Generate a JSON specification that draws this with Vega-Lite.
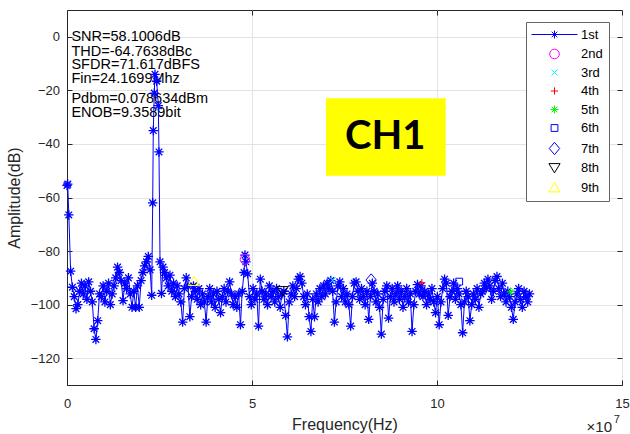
{
"$schema": "https://vega.github.io/schema/vega-lite/v6.json",
"width": 555, "height": 375,
"autosize": {"type": "none"},
"padding": {"left": 67, "top": 10, "right": 8, "bottom": 49},
"background": "#ffffff",
"config": {"font": "Liberation Sans", "view": {"stroke": "#262626", "strokeWidth": 1}},
"datasets": {
"spec": [
{"f":0,"db":-55.5},{"f":0.02,"db":-55},{"f":0.049,"db":-66.5},{"f":0.098,"db":-87.5},{"f":0.146,"db":-93.5},{"f":0.195,"db":-97},{"f":0.244,"db":-101.5},{"f":0.293,"db":-100},{"f":0.342,"db":-95},{"f":0.391,"db":-92},{"f":0.439,"db":-96},{"f":0.488,"db":-93},{"f":0.537,"db":-98},{"f":0.586,"db":-91.5},{"f":0.635,"db":-95},{"f":0.684,"db":-99},{"f":0.732,"db":-109},{"f":0.781,"db":-113},{"f":0.83,"db":-106},{"f":0.879,"db":-96},{"f":0.928,"db":-97},{"f":0.977,"db":-93},{"f":1.025,"db":-99},{"f":1.074,"db":-95},{"f":1.123,"db":-92},{"f":1.172,"db":-100},{"f":1.221,"db":-96},{"f":1.27,"db":-93},{"f":1.318,"db":-90},{"f":1.367,"db":-86},{"f":1.416,"db":-88},{"f":1.465,"db":-91},{"f":1.514,"db":-98.5},{"f":1.563,"db":-92},{"f":1.611,"db":-94},{"f":1.66,"db":-90},{"f":1.709,"db":-96},{"f":1.758,"db":-101},{"f":1.807,"db":-95},{"f":1.855,"db":-101},{"f":1.904,"db":-93},{"f":1.953,"db":-101},{"f":2.002,"db":-91},{"f":2.051,"db":-88},{"f":2.1,"db":-85.5},{"f":2.148,"db":-84},{"f":2.197,"db":-82},{"f":2.246,"db":-87},
{"f":2.289,"db":-96.5},{"f":2.316,"db":-62},{"f":2.332,"db":-35},{"f":2.359,"db":-21},{"f":2.378,"db":-14},{"f":2.424,"db":-16.6},{"f":2.468,"db":-25.7},{"f":2.486,"db":-43},{"f":2.514,"db":-84},{"f":2.554,"db":-95.8},{"f":2.595,"db":-86},
{"f":2.637,"db":-88},{"f":2.686,"db":-90},{"f":2.734,"db":-93},{"f":2.783,"db":-89},{"f":2.832,"db":-95},{"f":2.881,"db":-92},{"f":2.93,"db":-97},{"f":2.979,"db":-93},{"f":3.027,"db":-96},{"f":3.076,"db":-99},{"f":3.125,"db":-106.5},{"f":3.174,"db":-94},{"f":3.223,"db":-90},{"f":3.271,"db":-93},{"f":3.32,"db":-104.5},{"f":3.369,"db":-97},{"f":3.418,"db":-93},{"f":3.467,"db":-95},{"f":3.516,"db":-98},{"f":3.564,"db":-94},{"f":3.613,"db":-100},{"f":3.662,"db":-96},{"f":3.711,"db":-99},{"f":3.76,"db":-106.5},{"f":3.809,"db":-97},{"f":3.857,"db":-94},{"f":3.906,"db":-99},{"f":3.955,"db":-96},{"f":4.004,"db":-101},{"f":4.053,"db":-95},{"f":4.102,"db":-98},{"f":4.15,"db":-103},{"f":4.199,"db":-97},{"f":4.248,"db":-94},{"f":4.297,"db":-99},{"f":4.346,"db":-95},{"f":4.395,"db":-91.5},{"f":4.443,"db":-96},{"f":4.492,"db":-100},{"f":4.541,"db":-97},{"f":4.59,"db":-101},{"f":4.639,"db":-96},{"f":4.688,"db":-107.5},{"f":4.736,"db":-95},{"f":4.785,"db":-88},{"f":4.81,"db":-81.5},{"f":4.834,"db":-84},{"f":4.883,"db":-88.5},{"f":4.932,"db":-97},{"f":4.98,"db":-100},{"f":5.029,"db":-94},{"f":5.078,"db":-98},{"f":5.127,"db":-96},{"f":5.176,"db":-108},{"f":5.225,"db":-90.5},{"f":5.273,"db":-95},{"f":5.322,"db":-98},{"f":5.371,"db":-96},{"f":5.42,"db":-100},{"f":5.469,"db":-93},{"f":5.518,"db":-97},{"f":5.566,"db":-95},{"f":5.615,"db":-99},{"f":5.664,"db":-94},{"f":5.713,"db":-97},{"f":5.762,"db":-101},{"f":5.811,"db":-96},{"f":5.859,"db":-95},{"f":5.908,"db":-104},{"f":5.957,"db":-112},{"f":6.006,"db":-99},{"f":6.055,"db":-96},{"f":6.104,"db":-93},{"f":6.152,"db":-97},{"f":6.201,"db":-94},{"f":6.25,"db":-90.5},{"f":6.299,"db":-89.5},{"f":6.348,"db":-92},{"f":6.396,"db":-97},{"f":6.445,"db":-100},{"f":6.494,"db":-96},{"f":6.543,"db":-104.5},{"f":6.592,"db":-110},{"f":6.641,"db":-98},{"f":6.689,"db":-104.5},{"f":6.738,"db":-96},{"f":6.787,"db":-99},{"f":6.836,"db":-94},{"f":6.885,"db":-97},{"f":6.934,"db":-93},{"f":6.982,"db":-96},{"f":7.031,"db":-92},{"f":7.08,"db":-94},{"f":7.129,"db":-91},{"f":7.178,"db":-95},{"f":7.227,"db":-106.5},{"f":7.275,"db":-99},{"f":7.324,"db":-93},{"f":7.373,"db":-91.5},{"f":7.422,"db":-97},{"f":7.471,"db":-94},{"f":7.52,"db":-99},{"f":7.568,"db":-96},{"f":7.617,"db":-100},{"f":7.666,"db":-108},{"f":7.715,"db":-97},{"f":7.764,"db":-92},{"f":7.813,"db":-91.5},{"f":7.861,"db":-95},{"f":7.91,"db":-98},{"f":7.959,"db":-94},{"f":8.008,"db":-97},{"f":8.057,"db":-100},{"f":8.105,"db":-95},{"f":8.154,"db":-105.5},{"f":8.203,"db":-97},{"f":8.252,"db":-92},{"f":8.301,"db":-95},{"f":8.35,"db":-99},{"f":8.398,"db":-96},{"f":8.447,"db":-101},{"f":8.496,"db":-111},{"f":8.545,"db":-98},{"f":8.594,"db":-95},{"f":8.643,"db":-93},{"f":8.691,"db":-105},{"f":8.74,"db":-97},{"f":8.789,"db":-94},{"f":8.838,"db":-99},{"f":8.887,"db":-96},{"f":8.936,"db":-93},{"f":8.984,"db":-98},{"f":9.033,"db":-95},{"f":9.082,"db":-101},{"f":9.131,"db":-97},{"f":9.18,"db":-94},{"f":9.229,"db":-99},{"f":9.277,"db":-96},{"f":9.326,"db":-110},{"f":9.375,"db":-100},{"f":9.424,"db":-95},{"f":9.473,"db":-92.5},{"f":9.521,"db":-96},{"f":9.57,"db":-93},{"f":9.619,"db":-97},{"f":9.668,"db":-95},{"f":9.717,"db":-100},{"f":9.766,"db":-96},{"f":9.814,"db":-98},{"f":9.863,"db":-94},{"f":9.912,"db":-99},{"f":9.961,"db":-103},{"f":10.01,"db":-97},{"f":10.059,"db":-107.5},{"f":10.107,"db":-99},{"f":10.156,"db":-94},{"f":10.205,"db":-90.5},{"f":10.254,"db":-92},{"f":10.303,"db":-104},{"f":10.352,"db":-97},{"f":10.4,"db":-95},{"f":10.449,"db":-92},{"f":10.498,"db":-98},{"f":10.547,"db":-94},{"f":10.596,"db":-96},{"f":10.645,"db":-100},{"f":10.693,"db":-110.5},{"f":10.742,"db":-99},{"f":10.791,"db":-95},{"f":10.84,"db":-97},{"f":10.889,"db":-106},{"f":10.938,"db":-100},{"f":10.986,"db":-96},{"f":11.035,"db":-98},{"f":11.084,"db":-94},{"f":11.133,"db":-101},{"f":11.182,"db":-96},{"f":11.23,"db":-95},{"f":11.279,"db":-92},{"f":11.328,"db":-94},{"f":11.377,"db":-90.5},{"f":11.426,"db":-93},{"f":11.475,"db":-98},{"f":11.523,"db":-95},{"f":11.572,"db":-91},{"f":11.621,"db":-89.5},{"f":11.67,"db":-94},{"f":11.719,"db":-97},{"f":11.768,"db":-92},{"f":11.816,"db":-96},{"f":11.865,"db":-99},{"f":11.914,"db":-95},{"f":11.963,"db":-97},{"f":12.012,"db":-101},{"f":12.061,"db":-105.5},{"f":12.109,"db":-99},{"f":12.158,"db":-96},{"f":12.207,"db":-94},{"f":12.256,"db":-98},{"f":12.305,"db":-101},{"f":12.354,"db":-95},{"f":12.402,"db":-97},{"f":12.451,"db":-99},{"f":12.5,"db":-96}
],
"harm": [
{"h":"2nd","f":4.81,"db":-83.1},{"h":"3rd","f":7.18,"db":-90.9},{"h":"4th","f":9.59,"db":-91.8},{"h":"5th","f":11.99,"db":-95.2},{"h":"6th","f":10.6,"db":-91.4},{"h":"7th","f":8.22,"db":-90.8},{"h":"8th","f":5.83,"db":-94.9},{"h":"9th","f":3.43,"db":-91.2}
],
"notes": [
{"t":"SNR=58.1006dB","f":0.12,"db":0},{"t":"THD=-64.7638dBc","f":0.12,"db":-5.5},{"t":"SFDR=71.617dBFS","f":0.12,"db":-10.35},{"t":"Fin=24.1699Mhz","f":0.12,"db":-15.6},{"t":"Pdbm=0.078634dBm","f":0.12,"db":-23.3},{"t":"ENOB=9.3589bit","f":0.12,"db":-28.6}
],
"box": [{"x1":7.0,"x2":10.235,"y1":-22.96,"y2":-51.86,"label":"CH1","cx":8.6,"cy":-37.4}],
"mult": [{"t":"×10","f":14.73,"db":-147.5}],
"expo": [{"t":"7","f":14.78,"db":-144.2}]
},
"resolve": {"axis": {"x": "independent", "y": "independent"}},
"layer": [
{"data": {"name": "box"}, "mark": {"type": "rect", "color": "#ffff00"},
 "encoding": {
  "x": {"field": "x1", "type": "quantitative", "scale": {"domain": [0, 15], "nice": false, "zero": false},
   "axis": {"orient": "bottom", "values": [0, 5, 10, 15], "format": "d", "title": "Frequency(Hz)", "titleFontSize": 16, "titleFontWeight": "normal", "titleColor": "#262626", "titleX": 277.5, "titleY": 39, "titleBaseline": "middle", "titleAlign": "center", "labelFontSize": 13, "labelColor": "#262626", "labelPadding": 17, "tickSize": -5, "tickColor": "#262626", "domainColor": "#262626", "grid": true, "gridColor": "#e3e3e3", "labelFlush": false}},
  "x2": {"field": "x2"},
  "y": {"field": "y1", "type": "quantitative", "scale": {"domain": [-130, 10], "nice": false, "zero": false},
   "axis": {"orient": "left", "values": [-120, -100, -80, -60, -40, -20, 0], "title": "Amplitude(dB)", "titleFontSize": 16, "titleFontWeight": "normal", "titleColor": "#262626", "titleX": -53, "titleY": 187.5, "titleAngle": -90, "titleBaseline": "middle", "titleAlign": "center", "labelFontSize": 13, "labelColor": "#262626", "labelPadding": 12.5, "tickSize": -5, "tickColor": "#262626", "domainColor": "#262626", "grid": true, "gridColor": "#e3e3e3", "labelFlush": false}},
  "y2": {"field": "y2"}
 }},
{"data": {"name": "box"}, "mark": {"type": "text", "font": "Lato", "fontWeight": "bold", "fontSize": 40, "color": "#000000", "align": "center", "baseline": "middle"},
 "encoding": {"x": {"field": "cx", "type": "quantitative", "axis": null}, "y": {"field": "cy", "type": "quantitative", "axis": null}, "text": {"field": "label"}}},
{"data": {"name": "notes"}, "mark": {"type": "text", "fontSize": 14.5, "color": "#000000", "align": "left", "baseline": "middle"},
 "encoding": {"x": {"field": "f", "type": "quantitative", "axis": null}, "y": {"field": "db", "type": "quantitative", "axis": null}, "text": {"field": "t"}}},
{"data": {"name": "spec"}, "mark": {"type": "line", "color": "#0000ff", "strokeWidth": 1},
 "encoding": {"x": {"field": "f", "type": "quantitative", "axis": null}, "y": {"field": "db", "type": "quantitative", "axis": null}}},
{"data": {"name": "spec"}, "mark": {"type": "point", "filled": false, "color": "#0000ff", "size": 90, "strokeWidth": 1.3, "opacity": 1,
  "shape": "M-1,0L1,0M0,-1L0,1M-0.7,-0.7L0.7,0.7M-0.7,0.7L0.7,-0.7"},
 "encoding": {
  "x": {"field": "f", "type": "quantitative", "axis": {"orient": "top", "values": [0, 5, 10, 15], "labels": false, "title": null, "grid": false, "domain": false, "tickSize": -5, "tickColor": "#262626"}},
  "y": {"field": "db", "type": "quantitative", "axis": {"orient": "right", "values": [-120, -100, -80, -60, -40, -20, 0], "labels": false, "title": null, "grid": false, "domain": false, "tickSize": -5, "tickColor": "#262626"}}
 }},
{"data": {"name": "harm"}, "mark": {"type": "point", "filled": false, "size": 64, "strokeWidth": 1, "opacity": 1},
 "encoding": {
  "x": {"field": "f", "type": "quantitative", "axis": null},
  "y": {"field": "db", "type": "quantitative", "axis": null},
  "color": {"field": "h", "type": "nominal",
   "scale": {"domain": ["1st","2nd","3rd","4th","5th","6th","7th","8th","9th"], "range": ["#0000ff","#ff00ff","#00ffff","#ff0000","#00ff00","#0000ff","#0000ff","#000000","#ffff00"]},
   "legend": {"orient": "none", "legendX": 459, "legendY": 12, "title": null, "labelFontSize": 13, "labelColor": "#000000", "labelFont": "Liberation Sans", "symbolSize": 64, "symbolStrokeWidth": 1, "symbolOffset": 16, "labelOffset": 20, "padding": 6, "rowPadding": 4.5, "strokeColor": "#666666", "fillColor": "#ffffff", "cornerRadius": 0}},
  "shape": {"field": "h", "type": "nominal",
   "scale": {"domain": ["1st","2nd","3rd","4th","5th","6th","7th","8th","9th"], "range": [
    "M-5.75,0L5.75,0M0,-1L0,1M-0.7,-0.7L0.7,0.7M-0.7,0.7L0.7,-0.7",
    "M1.2,0A1.2,1.2,0,1,1,-1.2,0A1.2,1.2,0,1,1,1.2,0Z",
    "M-0.75,-0.75L0.75,0.75M-0.75,0.75L0.75,-0.75",
    "M-0.9,0L0.9,0M0,-0.9L0,0.9",
    "M-1,0L1,0M0,-1L0,1M-0.7,-0.7L0.7,0.7M-0.7,0.7L0.7,-0.7",
    "M-0.85,-0.85L0.85,-0.85L0.85,0.85L-0.85,0.85Z",
    "M0,-1.55L1.3,0L0,1.55L-1.3,0Z",
    "M-1.4,-1.1L1.4,-1.1L0,1.2Z",
    "M-1.4,1.1L1.4,1.1L0,-1.2Z"]},
   "legend": {"orient": "none", "legendX": 459, "legendY": 12, "title": null, "labelFontSize": 13, "labelColor": "#000000", "labelFont": "Liberation Sans", "symbolSize": 64, "symbolStrokeWidth": 1, "symbolOffset": 16, "labelOffset": 20, "padding": 6, "rowPadding": 4.5, "strokeColor": "#666666", "fillColor": "#ffffff", "cornerRadius": 0}}
 }},
{"data": {"name": "mult"}, "mark": {"type": "text", "fontSize": 15, "color": "#262626", "align": "right", "baseline": "alphabetic"},
 "encoding": {"x": {"field": "f", "type": "quantitative", "axis": null}, "y": {"field": "db", "type": "quantitative", "axis": null}, "text": {"field": "t"}}},
{"data": {"name": "expo"}, "mark": {"type": "text", "fontSize": 11, "color": "#262626", "align": "left", "baseline": "alphabetic"},
 "encoding": {"x": {"field": "f", "type": "quantitative", "axis": null}, "y": {"field": "db", "type": "quantitative", "axis": null}, "text": {"field": "t"}}}
]
}
